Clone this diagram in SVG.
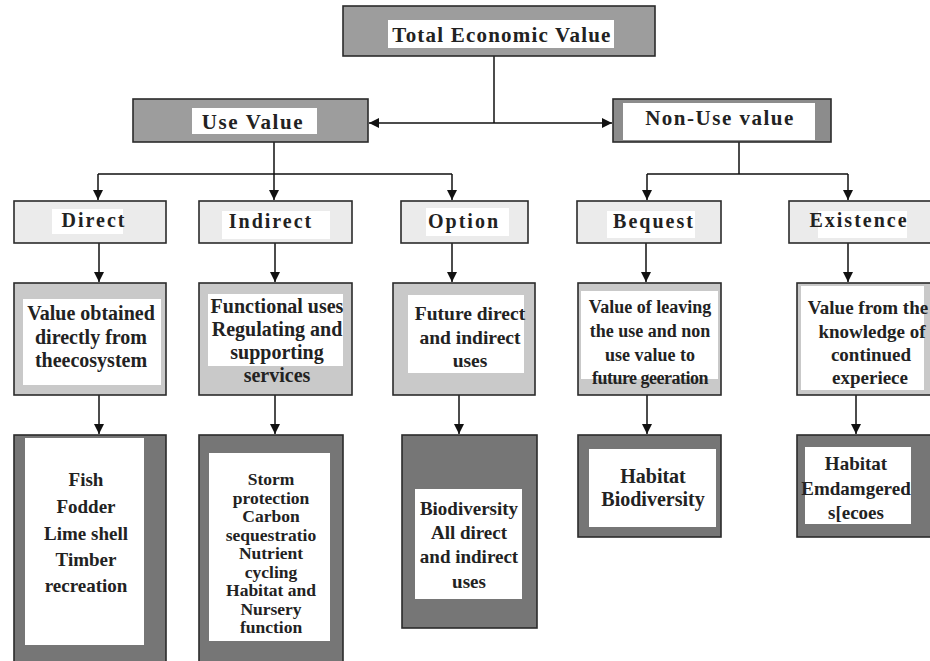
<svg xmlns="http://www.w3.org/2000/svg" width="930" height="661" viewBox="0 0 930 661">
<defs>
<marker id="ah" viewBox="0 0 10 10" refX="10" refY="5" markerWidth="10" markerHeight="10" markerUnits="userSpaceOnUse" orient="auto">
<path d="M0,0 L10,5 L0,10 z" fill="#111"/>
</marker>
<style>
.box{stroke:#2b2b2b;stroke-width:1.6}
.top{fill:#9d9d9d}
.nu{fill:#8c8c8c}
.r2{fill:#ebebeb}
.r3{fill:#c9c9c9}
.r4{fill:#767676}
.w{fill:#fff}
text{font-family:"Liberation Serif","Times New Roman",serif;font-weight:bold;fill:#222;text-anchor:middle}
.t1{font-size:21px;letter-spacing:1.2px}
.t2{font-size:20px;letter-spacing:2px}
.t3{font-size:19px}
.t3s{font-size:18px}
.t3t{font-size:17.5px}
.c{stroke:#111;stroke-width:1.5;fill:none}
</style>
</defs>
<rect width="930" height="661" fill="#fff"/>

<g id="connectors">
<path class="c" d="M494,56 V123"/>
<path class="c" d="M494,123 H369" marker-end="url(#ah)"/>
<path class="c" d="M494,123 H612" marker-end="url(#ah)"/>
<path class="c" d="M274,142 V174 M98,174 H452 M739,142 V174 M647,174 H848"/>
<path class="c" d="M98,174 V200" marker-end="url(#ah)"/>
<path class="c" d="M274,174 V200" marker-end="url(#ah)"/>
<path class="c" d="M452,174 V200" marker-end="url(#ah)"/>
<path class="c" d="M647,174 V200" marker-end="url(#ah)"/>
<path class="c" d="M848,174 V200" marker-end="url(#ah)"/>
<path class="c" d="M99,243 V282" marker-end="url(#ah)"/>
<path class="c" d="M275,243 V282" marker-end="url(#ah)"/>
<path class="c" d="M452,243 V282" marker-end="url(#ah)"/>
<path class="c" d="M646,243 V282" marker-end="url(#ah)"/>
<path class="c" d="M848,243 V282" marker-end="url(#ah)"/>
<path class="c" d="M99,395 V434" marker-end="url(#ah)"/>
<path class="c" d="M275,395 V434" marker-end="url(#ah)"/>
<path class="c" d="M459,395 V434" marker-end="url(#ah)"/>
<path class="c" d="M647,395 V434" marker-end="url(#ah)"/>
<path class="c" d="M856,395 V434" marker-end="url(#ah)"/>
</g>

<g id="tev">
<rect class="box top" x="343" y="6" width="312" height="50"/>
<rect class="w" x="388" y="20" width="226" height="28"/>
<text class="t1" x="502" y="42">Total Economic Value</text>
</g>
<g id="use">
<rect class="box top" x="133" y="99" width="235" height="43"/>
<rect class="w" x="192" y="108" width="125" height="26"/>
<text class="t1" x="253" y="129" style="letter-spacing:1.6px">Use Value</text>
</g>
<g id="nonuse">
<rect class="box nu" x="613" y="99" width="218" height="43"/>
<rect class="w" x="623" y="103" width="192" height="37"/>
<text class="t1" x="720" y="125" style="letter-spacing:1.5px">Non-Use value</text>
</g>

<g id="direct">
<rect class="box r2" x="14" y="201" width="152" height="42"/>
<rect class="w" x="52" y="209" width="71" height="25"/>
<text class="t2" x="94" y="227">Direct</text>
</g>
<g id="indirect">
<rect class="box r2" x="199" y="201" width="153" height="42"/>
<rect class="w" x="222" y="211" width="108" height="28"/>
<text class="t2" x="271" y="228">Indirect</text>
</g>
<g id="option">
<rect class="box r2" x="401" y="201" width="127" height="42"/>
<rect class="w" x="426" y="208" width="83" height="28"/>
<text class="t2" x="464" y="228">Option</text>
</g>
<g id="bequest">
<rect class="box r2" x="577" y="201" width="144" height="42"/>
<rect class="w" x="607" y="211" width="88" height="27"/>
<text class="t2" x="654" y="228">Bequest</text>
</g>
<g id="existence">
<rect class="box r2" x="789" y="201" width="145" height="42"/>
<rect class="w" x="818" y="211" width="89" height="27"/>
<text class="t2" x="859" y="227">Existence</text>
</g>

<g id="direct-desc">
<rect class="box r3" x="14" y="283" width="152" height="112"/>
<rect class="w" x="23" y="299" width="138" height="86"/>
<text class="t3" x="91" y="320" style="font-size:20px">Value obtained</text>
<text class="t3" x="91" y="344" style="font-size:20px">directly from</text>
<text class="t3" x="91" y="367" style="font-size:20px">theecosystem</text>
</g>
<g id="indirect-desc">
<rect class="box r3" x="199" y="283" width="153" height="112"/>
<rect class="w" x="208" y="294" width="135" height="72"/>
<text class="t3" x="277" y="313" style="font-size:20px">Functional uses</text>
<text class="t3" x="277" y="336" style="font-size:20px">Regulating and</text>
<text class="t3" x="277" y="359" style="font-size:20px">supporting</text>
<text class="t3" x="277" y="382" style="font-size:20px">services</text>
</g>
<g id="option-desc">
<rect class="box r3" x="393" y="283" width="142" height="112"/>
<rect class="w" x="408" y="295" width="116" height="78"/>
<text class="t3" x="470" y="320" style="font-size:19.5px">Future direct</text>
<text class="t3" x="470" y="344" style="font-size:19.5px">and indirect</text>
<text class="t3" x="470" y="367" style="font-size:19.5px">uses</text>
</g>
<g id="bequest-desc">
<rect class="box r3" x="578" y="283" width="143" height="112"/>
<rect class="w" x="581" y="291" width="137" height="88"/>
<text class="t3s" x="650" y="313">Value of leaving</text>
<text class="t3s" x="650" y="337">the use and non</text>
<text class="t3s" x="650" y="361">use value to</text>
<text class="t3s" x="650" y="384" style="letter-spacing:-0.5px">future geeration</text>
</g>
<g id="existence-desc">
<rect class="box r3" x="797" y="283" width="137" height="112"/>
<rect class="w" x="801" y="286" width="123" height="104"/>
<text class="t3" x="868" y="314">Value from the</text>
<text class="t3" x="872" y="338">knowledge of</text>
<text class="t3" x="871" y="361">continued</text>
<text class="t3" x="870" y="384">experiece</text>
</g>

<g id="direct-ex">
<rect class="box r4" x="14" y="435" width="152" height="235"/>
<rect class="w" x="25" y="438" width="119" height="207"/>
<text class="t3" x="86" y="486">Fish</text>
<text class="t3" x="86" y="513">Fodder</text>
<text class="t3" x="86" y="540">Lime shell</text>
<text class="t3" x="86" y="566">Timber</text>
<text class="t3" x="86" y="592">recreation</text>
</g>
<g id="indirect-ex">
<rect class="box r4" x="199" y="435" width="144" height="235"/>
<rect class="w" x="209" y="453" width="121" height="188"/>
<text class="t3t" x="271" y="485">Storm</text>
<text class="t3t" x="271" y="503.5">protection</text>
<text class="t3t" x="271" y="522">Carbon</text>
<text class="t3t" x="271" y="540.5">sequestratio</text>
<text class="t3t" x="271" y="559">Nutrient</text>
<text class="t3t" x="271" y="577.5">cycling</text>
<text class="t3t" x="271" y="596">Habitat and</text>
<text class="t3t" x="271" y="614.5">Nursery</text>
<text class="t3t" x="271" y="633">function</text>
</g>
<g id="option-ex">
<rect class="box r4" x="402" y="435" width="135" height="193"/>
<rect class="w" x="415" y="489" width="107" height="110"/>
<text class="t3" x="469" y="515">Biodiversity</text>
<text class="t3" x="469" y="539">All direct</text>
<text class="t3" x="469" y="563">and indirect</text>
<text class="t3" x="469" y="588">uses</text>
</g>
<g id="bequest-ex">
<rect class="box r4" x="578" y="435" width="143" height="102"/>
<rect class="w" x="589" y="449" width="127" height="78"/>
<text class="t3" x="653" y="483" style="font-size:20px">Habitat</text>
<text class="t3" x="653" y="506" style="font-size:20px">Biodiversity</text>
</g>
<g id="existence-ex">
<rect class="box r4" x="797" y="435" width="137" height="102"/>
<rect class="w" x="805" y="447" width="106" height="77"/>
<text class="t3" x="856" y="470">Habitat</text>
<text class="t3" x="856" y="495">Emdamgered</text>
<text class="t3" x="856" y="519">s[ecoes</text>
</g>
</svg>
